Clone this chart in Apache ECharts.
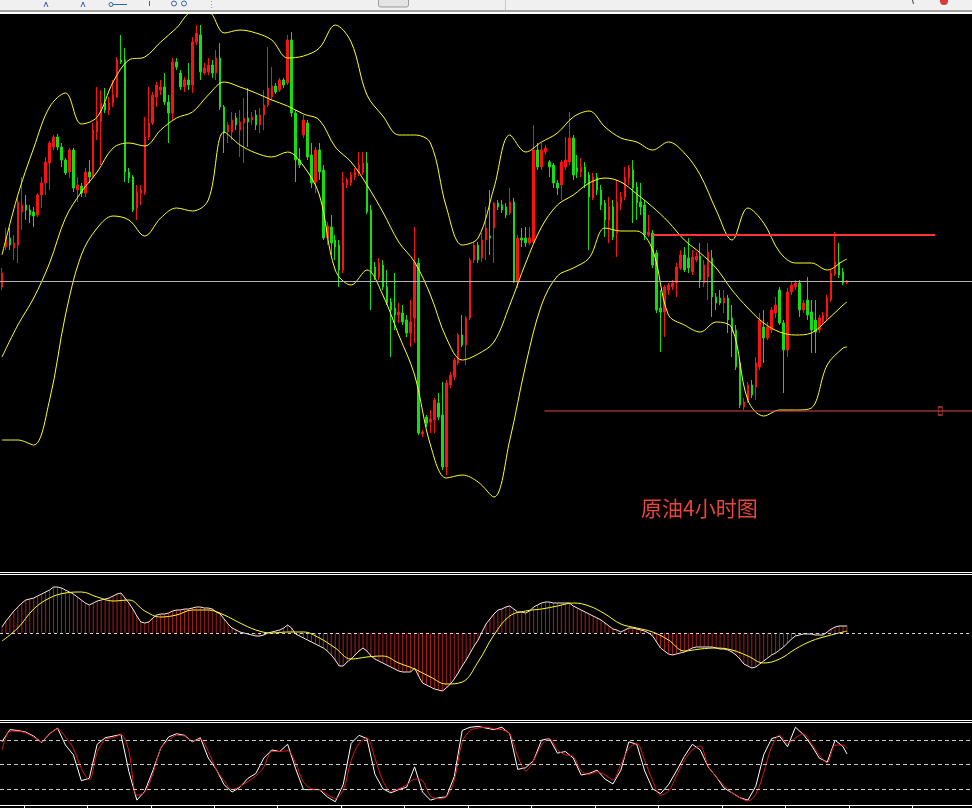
<!DOCTYPE html>
<html><head><meta charset="utf-8">
<script src="https://cdn.jsdelivr.net/npm/echarts/dist/echarts.min.js"></script>
<style>html,body{margin:0;padding:0;background:#000;}#c{width:972px;height:808px;}</style>
</head><body><div id="c"></div>
<script>
// ---- data (4-hour crude oil candles, arbitrary price units) ----
const openP = [71.3,75.3,76.2,75.2,75.5,78.8,79.5,79.0,78.8,78.5,
80.5,81.7,83.7,85.3,86.3,85.3,84.0,82.8,85.0,81.0,
81.4,80.7,82.8,82.3,86.8,87.9,89.7,89.0,89.7,90.3,
94.0,94.0,82.8,82.3,79.2,80.7,80.8,86.3,87.7,90.3,
91.0,91.3,89.8,88.7,93.8,92.7,91.3,92.0,91.5,95.8,
96.5,92.7,92.8,93.5,92.7,94.2,89.3,86.8,86.8,88.2,
87.0,87.7,88.2,88.0,88.5,87.5,88.5,89.5,90.3,91.4,
91.0,92.0,91.7,96.0,88.7,84.0,86.5,87.7,84.5,81.8,
85.0,83.0,76.2,77.3,76.0,75.5,73.0,81.5,81.7,82.3,
82.7,82.8,83.7,79.0,73.3,72.3,73.5,71.3,69.8,69.2,
68.5,68.7,68.0,66.7,68.2,73.7,56.6,58.3,57.8,58.0,
59.7,58.5,53.3,61.5,62.3,63.7,66.5,65.5,68.2,74.0,
75.5,74.2,76.0,76.4,77.2,79.7,79.5,79.3,78.7,79.8,
71.8,76.2,76.2,75.7,75.8,85.0,83.3,84.8,83.8,83.5,
81.7,81.5,83.3,83.8,86.2,83.2,82.8,83.3,82.5,80.2,
82.3,81.0,79.7,78.0,79.3,76.7,79.7,80.3,82.2,83.0,
81.3,79.8,79.5,76.5,76.7,74.7,69.2,68.8,71.0,71.3,
71.7,73.2,74.5,74.2,72.8,74.0,74.4,71.7,72.3,74.2,
70.3,70.2,69.7,70.2,68.2,67.0,63.7,59.3,60.0,61.5,
61.3,63.3,67.3,66.2,67.0,68.7,71.0,67.7,65.0,70.8,
71.3,71.7,69.0,70.0,68.8,68.0,67.0,67.8,68.3,70.0,
72.6,73.8,72.8,71.7];
const closeP = [72.7,76.3,75.5,75.7,79.8,79.5,79.0,78.5,78.4,80.5,
81.7,83.8,85.7,86.3,85.3,84.0,82.7,85.0,81.2,81.5,
80.7,82.8,82.3,87.0,87.9,89.7,89.0,89.7,90.5,94.0,
93.8,82.8,82.2,79.0,80.8,81.0,86.3,87.7,90.5,91.5,
91.3,89.8,88.7,93.8,93.3,91.3,92.0,91.5,95.8,96.7,
92.8,93.2,93.5,92.7,94.2,89.3,86.7,87.5,88.0,87.5,
87.8,88.2,87.8,88.3,87.5,88.5,89.5,91.2,91.4,90.8,
92.0,91.5,96.0,88.7,84.0,83.5,88.0,84.3,81.7,85.0,
82.8,76.2,77.4,75.7,75.3,73.0,81.7,82.0,82.5,82.8,
83.5,83.7,78.8,72.7,72.3,73.7,71.3,69.7,69.0,68.5,
68.8,67.8,66.7,67.8,73.8,56.7,56.8,57.7,58.1,60.0,
58.3,53.3,61.7,62.5,64.0,66.5,65.5,68.2,74.0,75.5,
74.0,76.0,77.2,76.2,79.7,79.3,79.0,78.5,79.8,71.8,
76.2,76.0,75.7,76.2,85.0,83.3,85.0,85.2,83.3,81.7,
81.2,83.8,84.0,86.2,82.5,82.8,83.3,81.7,80.3,82.3,
81.0,79.5,78.0,79.3,76.3,79.8,80.3,82.3,83.2,81.2,
79.7,79.3,76.5,76.8,73.5,69.0,68.8,71.3,71.5,71.7,
73.3,74.5,73.0,73.2,74.3,74.4,72.0,73.5,74.8,70.3,
69.7,69.7,70.2,68.0,66.8,63.3,59.5,59.8,61.5,60.5,
63.7,68.0,66.2,67.3,69.0,69.5,67.7,65.0,70.8,71.5,
71.7,69.0,69.7,68.5,67.0,66.8,68.2,68.5,70.2,72.7,
73.8,72.5,71.7,71.9];
const highP = [73.2,77.2,77.2,76.5,80.2,82.3,80.5,79.5,79.3,80.7,
82.3,84.3,85.9,86.5,86.6,85.7,84.2,85.2,85.2,82.3,
81.7,83.2,84.0,87.7,91.3,91.0,91.2,90.3,92.0,94.3,
96.5,95.2,83.2,82.5,81.5,81.5,88.3,91.3,90.8,91.8,
92.0,92.7,90.5,94.2,94.2,93.0,92.3,93.7,96.3,97.5,
97.5,93.7,94.2,94.0,95.0,95.7,89.5,87.8,88.8,88.7,
89.0,90.2,91.2,88.8,89.0,89.2,91.0,95.3,93.3,91.7,
92.2,92.2,96.5,96.8,89.0,85.2,88.5,88.0,85.7,85.3,
85.7,83.5,77.8,78.5,76.5,76.0,82.8,82.2,82.8,83.2,
84.8,84.8,84.8,79.5,73.8,74.2,74.0,73.0,70.2,72.7,
69.7,69.5,68.5,70.0,77.3,74.2,57.0,58.5,59.0,60.2,
60.7,61.8,62.0,62.8,64.2,66.7,68.5,68.4,74.2,75.8,
75.8,76.7,79.3,81.0,79.8,80.0,80.0,79.7,81.2,80.2,
76.5,77.2,77.3,77.3,87.5,85.7,85.7,85.5,84.0,83.7,
82.0,84.0,86.3,88.8,86.5,84.5,84.2,83.8,82.8,82.7,
82.7,81.5,80.0,80.3,80.0,82.0,80.8,83.3,83.5,84.0,
81.8,81.7,80.0,78.5,77.0,75.0,71.0,71.5,71.7,72.0,
73.7,75.0,75.3,76.2,75.0,74.8,75.7,74.0,75.7,75.0,
70.7,71.0,71.0,70.5,69.5,67.5,64.0,60.2,61.8,62.0,
64.3,68.7,69.0,67.8,69.3,70.3,71.3,68.0,71.2,71.8,
72.0,72.0,70.0,72.3,70.0,70.0,68.5,68.8,70.5,73.0,
76.8,75.7,73.2,72.0];
const lowP = [71.0,75.0,75.0,74.0,73.7,77.0,78.0,77.7,77.3,78.3,
79.2,80.5,81.0,85.0,85.0,83.3,82.5,82.2,80.8,79.8,
80.3,80.3,81.7,82.2,86.0,83.5,88.7,88.5,89.3,90.2,
93.6,81.8,81.7,78.8,78.0,79.5,80.5,86.0,87.5,89.3,
90.5,89.5,85.7,88.0,93.0,91.0,90.8,91.0,90.7,95.5,
92.0,92.5,92.5,92.2,92.0,89.0,84.7,85.7,86.0,87.0,
84.3,83.7,85.3,87.5,87.0,86.7,87.0,89.3,90.0,90.6,
90.8,91.2,91.5,88.3,81.8,83.2,86.2,84.0,81.2,80.7,
82.0,76.0,75.5,74.5,74.0,71.3,72.7,81.2,81.4,82.0,
82.4,82.5,78.6,69.0,72.0,72.0,71.0,69.5,64.3,67.0,
67.7,67.5,66.3,65.3,65.7,56.5,56.3,57.3,56.7,56.7,
58.0,53.0,52.5,61.2,62.0,63.5,65.3,63.5,68.0,73.7,
73.7,73.8,74.0,74.5,73.7,79.0,78.7,78.2,78.5,71.7,
71.2,75.3,75.3,75.5,75.7,83.0,83.0,84.5,82.3,81.2,
80.5,80.0,83.0,83.5,82.0,82.2,82.3,81.2,75.0,80.0,
80.5,79.0,76.3,75.7,76.0,74.3,79.0,80.0,81.5,77.7,
78.0,78.5,76.0,76.3,73.2,68.7,64.8,66.3,70.5,71.0,
70.3,73.0,72.8,72.7,72.5,73.8,71.2,71.3,70.0,68.3,
69.0,69.5,68.7,66.7,64.3,63.0,59.2,59.0,59.7,60.2,
60.0,63.0,63.7,66.0,66.7,68.2,67.5,60.7,64.3,70.5,
71.0,68.3,68.7,68.0,64.7,64.7,66.7,67.5,68.0,69.8,
72.4,72.2,71.5,71.6];

// Bollinger bands read every 4th candle (last value = last candle)
const bandUpper = [74.5,80.5,85.2,89.3,90.7,87.6,88.3,91.8,94.0,94.3,95.8,97.2,98.8,98.8,96.7,97.0,96.7,96.0,94.2,94.4,95.2,97.5,95.8,90.5,88.4,86.5,86.5,85.7,79.3,75.5,76.2,81.2,86.5,84.8,85.8,86.7,88.3,88.9,87.3,86.2,85.8,85.0,85.8,84.7,82.5,79.0,76.0,79.2,77.7,74.8,73.7,73.7,73.0,73.9,74.1];
const bandMid = [64.3,67.5,70.2,73.7,78.2,80.8,82.8,85.2,85.7,85.4,87.0,88.2,88.8,90.5,91.8,91.3,90.7,90.0,89.4,88.6,88.0,85.3,83.8,81.5,78.8,75.8,73.8,70.5,66.2,64.0,64.6,65.8,69.5,73.7,77.3,79.5,80.5,81.7,82.2,81.8,80.6,79.3,77.8,76.0,74.7,73.2,71.0,69.2,67.7,66.8,66.5,66.7,68.0,69.5,69.8];
const bandLower = [56.0,56.0,55.5,60.0,68.5,74.5,77.2,78.4,78.0,76.4,78.2,79.2,78.9,80.0,86.8,85.5,84.7,84.3,84.8,83.4,80.5,73.0,71.5,73.0,70.5,66.5,62.5,55.5,52.2,52.5,51.8,50.3,56.0,63.5,69.5,72.4,73.2,74.2,77.2,76.9,76.9,75.0,68.5,67.5,66.8,67.8,67.2,60.0,58.4,59.0,59.0,59.2,63.5,65.2,65.3];

// MACD (one value per candle) and signal (every 4th candle)
const macdHist = [0.06,0.12,0.17,0.22,0.26,0.30,0.33,0.34,0.35,0.37,
0.39,0.41,0.43,0.46,0.46,0.45,0.43,0.41,0.39,0.36,
0.33,0.30,0.28,0.30,0.32,0.33,0.34,0.35,0.37,0.39,
0.40,0.35,0.30,0.24,0.17,0.11,0.10,0.11,0.15,0.18,
0.19,0.19,0.20,0.22,0.23,0.23,0.24,0.24,0.25,0.26,
0.26,0.25,0.25,0.24,0.21,0.19,0.14,0.09,0.05,0.03,
0.01,0.00,-0.01,-0.02,-0.03,-0.03,-0.02,0.00,0.01,0.02,
0.03,0.05,0.08,0.05,-0.01,-0.03,-0.05,-0.07,-0.09,-0.11,
-0.13,-0.15,-0.18,-0.22,-0.27,-0.33,-0.33,-0.29,-0.26,-0.22,
-0.18,-0.15,-0.18,-0.23,-0.26,-0.28,-0.30,-0.32,-0.34,-0.36,
-0.38,-0.39,-0.39,-0.39,-0.35,-0.43,-0.50,-0.52,-0.54,-0.56,
-0.57,-0.58,-0.55,-0.51,-0.46,-0.40,-0.33,-0.27,-0.20,-0.13,
-0.07,0.01,0.09,0.14,0.19,0.23,0.24,0.26,0.27,0.24,
0.21,0.21,0.20,0.22,0.26,0.28,0.30,0.31,0.31,0.30,
0.30,0.30,0.30,0.30,0.27,0.25,0.23,0.21,0.19,0.17,
0.15,0.13,0.10,0.07,0.04,0.03,0.01,0.03,0.05,0.05,
0.04,0.03,0.02,0.00,-0.03,-0.09,-0.15,-0.18,-0.21,-0.22,
-0.21,-0.20,-0.19,-0.17,-0.15,-0.14,-0.14,-0.14,-0.14,-0.14,
-0.15,-0.16,-0.16,-0.17,-0.19,-0.22,-0.26,-0.31,-0.33,-0.35,
-0.34,-0.31,-0.28,-0.25,-0.22,-0.20,-0.17,-0.14,-0.10,-0.06,
-0.03,-0.02,-0.01,-0.01,-0.01,-0.02,-0.02,-0.02,0.01,0.04,
0.06,0.07,0.07,0.07];
const macdSignal = [-0.08,0.05,0.24,0.35,0.40,0.41,0.36,0.32,0.33,0.22,0.16,0.18,0.23,0.23,0.18,0.10,0.03,0.00,0.01,0.01,-0.05,-0.15,-0.26,-0.24,-0.23,-0.30,-0.36,-0.44,-0.51,-0.49,-0.29,-0.02,0.17,0.22,0.24,0.27,0.30,0.27,0.19,0.09,0.05,0.01,-0.07,-0.18,-0.16,-0.15,-0.17,-0.23,-0.30,-0.26,-0.16,-0.08,-0.03,0.01,0.02];

// Stochastic (every 2nd candle, last value = last candle)
const stochK = [78,93,92,90,85,77,88,95,74,62,
30,33,75,83,85,87,41,6,17,42,
70,84,88,86,78,83,58,44,25,16,
22,33,39,58,68,66,75,45,19,19,
19,10,4,25,76,86,82,38,20,15,
19,22,47,16,6,9,10,35,92,96,
97,95,93,96,88,44,46,55,80,82,
64,66,58,37,39,43,32,26,43,78,
75,42,20,14,25,42,60,75,68,47,
35,21,15,9,6,23,62,82,85,72,
96,87,74,58,53,80,72,63];
const stochD = [68,91,91,89,84,78,88,94,84,70,
45,31,65,81,83,87,66,12,16,38,
70,80,86,85,79,81,66,44,30,19,
23,29,36,47,66,66,67,52,28,20,
19,13,8,18,55,76,83,58,30,17,
20,25,32,30,11,8,10,30,78,92,
95,96,94,93,88,60,42,55,74,82,
68,62,60,42,38,41,37,31,50,70,
76,55,30,12,17,36,55,68,73,48,
35,24,15,9,5,13,40,72,86,76,
83,88,76,62,52,74,74,70];
const stochLevels = [20, 50, 80];

// horizontal levels
const bidPrice = 71.9;
const resistanceLevel = 76.5;
const supportLevel = 58.9;
const chartTitle = '原油4小时图';

// ---- build ----
const SLOTS = 245;              // candle slots incl. right-hand chart shift
const nC = openP.length;
const slots = Array.from({length: SLOTS}, (_, i) => i);
const candles = openP.map((o, i) => [o, closeP[i], lowP[i], highP[i]]);
const sampled = (arr, step) => arr.map((v, i) => [i < arr.length - 1 ? i * step : nC - 1, v]);

const hide = {show: false};
const GL = -2.5, GW = 980;
const RED = '#ff1010', GREEN = '#10e010';

const option = {
  backgroundColor: '#000',
  animation: false,
  title: {text: chartTitle, left: 641, top: 498, padding: 0,
    textStyle: {color: '#e8453c', fontSize: 21, fontWeight: 'normal', fontFamily: '"Noto Sans CJK SC", sans-serif'}},
  grid: [
    {left: GL, width: GW, top: 14, height: 557},
    {left: GL, width: GW, top: 577, height: 142},
    {left: GL, width: GW, top: 724, height: 81}
  ],
  xAxis: [
    {type: 'category', gridIndex: 0, data: slots, boundaryGap: true, show: false, position: 'bottom'},
    {type: 'value', gridIndex: 0, min: -0.5, max: SLOTS - 0.5, show: false, position: 'top'},
    {type: 'category', gridIndex: 1, data: slots, boundaryGap: true, show: false, position: 'bottom'},
    {type: 'value', gridIndex: 1, min: -0.5, max: SLOTS - 0.5, show: false, position: 'top'},
    {type: 'value', gridIndex: 2, min: -0.5, max: SLOTS - 0.5, show: false, position: 'top'},
    {type: 'category', gridIndex: 2, data: slots, boundaryGap: true, position: 'bottom', offset: 0,
      axisLine: {show: true, onZero: false, lineStyle: {color: '#ffffff', width: 1}},
      axisTick: {show: true, inside: false, length: 3, lineStyle: {color: '#ffffff'},
        interval: (i) => i % 16 === 6},
      axisLabel: hide, splitLine: hide}
  ],
  yAxis: [
    {type: 'value', gridIndex: 0, min: 42.9, max: 98.6, show: false},
    {type: 'value', gridIndex: 1, min: -0.86, max: 0.56, show: false},
    {type: 'value', gridIndex: 2, min: 0, max: 100, show: false}
  ],
  series: [
    {type: 'candlestick', xAxisIndex: 0, yAxisIndex: 0, data: candles, barWidth: 2, z: 2,
      itemStyle: {color: RED, color0: GREEN, borderColor: RED, borderColor0: GREEN, borderColorDoji: RED, borderWidth: 1},
      markLine: {silent: true, symbol: 'none', label: hide, animation: false,
        lineStyle: {color: '#b4b4b4', width: 1, type: 'solid'}, data: [{yAxis: bidPrice}]}},
    {type: 'line', name: 'upper', xAxisIndex: 1, yAxisIndex: 0, data: sampled(bandUpper, 4), showSymbol: false, symbol: 'none', smooth: 0.35, z: 3,
      lineStyle: {color: '#ffff20', width: 1}},
    {type: 'line', name: 'mid', xAxisIndex: 1, yAxisIndex: 0, data: sampled(bandMid, 4), showSymbol: false, symbol: 'none', smooth: 0.35, z: 3,
      lineStyle: {color: '#ffff20', width: 1}},
    {type: 'line', name: 'lower', xAxisIndex: 1, yAxisIndex: 0, data: sampled(bandLower, 4), showSymbol: false, symbol: 'none', smooth: 0.35, z: 3,
      lineStyle: {color: '#ffff20', width: 1}},
    {type: 'line', xAxisIndex: 1, yAxisIndex: 0, data: [[164, resistanceLevel], [235.25, resistanceLevel]], symbol: 'none', z: 4,
      lineStyle: {color: '#ff3434', width: 2}},
    {type: 'line', xAxisIndex: 1, yAxisIndex: 0, data: [[136.75, supportLevel], [SLOTS - 0.5, supportLevel]], symbol: 'none', z: 4,
      lineStyle: {color: '#e04646', width: 1}},
    {type: 'scatter', xAxisIndex: 1, yAxisIndex: 0, data: [[236.5, supportLevel]], symbol: 'rect', symbolSize: [4, 8], z: 5,
      itemStyle: {color: 'rgba(0,0,0,0)', borderColor: '#e04646', borderWidth: 1}},
    // MACD
    {type: 'bar', xAxisIndex: 2, yAxisIndex: 1, data: macdHist, barWidth: 1, itemStyle: {color: '#b01c1c'},
      markLine: {silent: true, symbol: 'none', label: hide, animation: false,
        lineStyle: {color: '#d8d8d8', width: 1, type: [3, 3]}, data: [{yAxis: 0}]}},
    {type: 'line', xAxisIndex: 2, yAxisIndex: 1, data: macdHist, symbol: 'none', z: 3,
      lineStyle: {color: '#f4e8e8', width: 1}},
    {type: 'line', xAxisIndex: 3, yAxisIndex: 1, data: sampled(macdSignal, 4), symbol: 'none', smooth: 0.4, z: 4,
      lineStyle: {color: '#ffff20', width: 1}},
    // Stochastic
    {type: 'line', xAxisIndex: 4, yAxisIndex: 2, data: sampled(stochK, 2), symbol: 'none', z: 3,
      lineStyle: {color: '#ffffff', width: 1},
      markLine: {silent: true, symbol: 'none', label: hide, animation: false,
        lineStyle: {color: '#c8c8c8', width: 1, type: [4, 3]}, data: stochLevels.map(v => ({yAxis: v}))}},
    {type: 'line', xAxisIndex: 4, yAxisIndex: 2, data: sampled(stochD, 2), symbol: 'none', smooth: 0.3, z: 4,
      lineStyle: {color: '#e01818', width: 1}}
  ],
  graphic: [
    {type: 'rect', silent: true, shape: {x: 0, y: 0, width: 972, height: 10}, style: {fill: '#f0f0f0'}},
    {type: 'rect', silent: true, shape: {x: 0, y: 10, width: 972, height: 2}, style: {fill: '#a0a0a0'}},
    {type: 'rect', silent: true, shape: {x: 0, y: 12, width: 972, height: 2}, style: {fill: '#ffffff'}},
    {type: 'line', silent: true, shape: {x1: 0, y1: 572.5, x2: 972, y2: 572.5}, style: {stroke: '#ffffff', lineWidth: 1}},
    {type: 'line', silent: true, shape: {x1: 0, y1: 574.5, x2: 972, y2: 574.5}, style: {stroke: '#ffffff', lineWidth: 1}},
    {type: 'line', silent: true, shape: {x1: 0, y1: 720.5, x2: 972, y2: 720.5}, style: {stroke: '#ffffff', lineWidth: 1}},
    {type: 'line', silent: true, shape: {x1: 0, y1: 722.5, x2: 972, y2: 722.5}, style: {stroke: '#ffffff', lineWidth: 1}},
    // toolbar bits
    {type: 'polyline', silent: true, shape: {points: [[44, 7], [46, 2], [48, 7]]}, style: {stroke: '#3264a8', lineWidth: 1, fill: 'none'}},
    {type: 'polyline', silent: true, shape: {points: [[81, 7], [83, 2], [85, 7]]}, style: {stroke: '#3264a8', lineWidth: 1, fill: 'none'}},
    {type: 'line', silent: true, shape: {x1: 110, y1: 4.5, x2: 127, y2: 4.5}, style: {stroke: '#3264a8', lineWidth: 1}},
    {type: 'circle', silent: true, shape: {cx: 111, cy: 4.5, r: 2}, style: {stroke: '#3264a8', fill: '#f0f0f0'}},
    {type: 'line', silent: true, shape: {x1: 149.5, y1: 1, x2: 149.5, y2: 6}, style: {stroke: '#3264a8', lineWidth: 1}},
    {type: 'circle', silent: true, shape: {cx: 174, cy: 3.5, r: 2.5}, style: {stroke: '#3264a8', fill: 'none'}},
    {type: 'circle', silent: true, shape: {cx: 184, cy: 3.5, r: 2.5}, style: {stroke: '#3264a8', fill: 'none'}},
    {type: 'line', silent: true, shape: {x1: 211.5, y1: 1, x2: 211.5, y2: 10}, style: {stroke: '#a0a0a0', lineWidth: 1, lineDash: [1, 2]}},
    {type: 'rect', silent: true, shape: {x: 378.5, y: -4, width: 30, height: 11, r: 2}, style: {fill: '#e4e4e4', stroke: '#9a9a9a'}},
    {type: 'line', silent: true, shape: {x1: 505.5, y1: 0, x2: 505.5, y2: 10}, style: {stroke: '#c8c8c8', lineWidth: 1}},
    {type: 'line', silent: true, shape: {x1: 912.5, y1: 0, x2: 913.5, y2: 4}, style: {stroke: '#404040', lineWidth: 1}},
    {type: 'circle', silent: true, shape: {cx: 944, cy: 1, r: 4}, style: {fill: '#d83a3a'}}
  ]
};
const chart = echarts.init(document.getElementById('c'), null, {renderer: 'canvas'});
chart.setOption(option);
</script>
</body></html>
